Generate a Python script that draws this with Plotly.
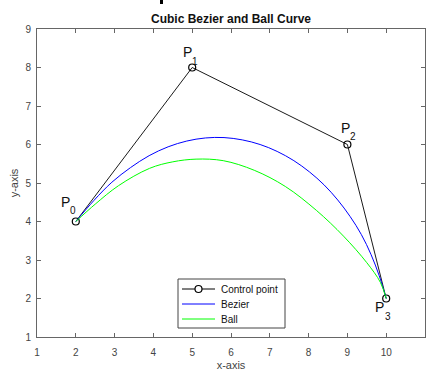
import plotly.graph_objects as go

# Control polygon
ctrl_x = [2, 5, 9, 10]
ctrl_y = [4, 8, 6, 2]
ctrl_index = ["0", "1", "2", "3"]

# Sampled curve points
bezier_x = [2, 2.47, 2.93, 3.41, 3.89, 4.38, 4.86, 5.34, 5.82, 6.29, 6.75, 7.19, 7.62, 8.02, 8.40, 8.75, 9.07, 9.36, 9.61, 9.82, 10]
bezier_y = [4, 4.55, 5.02, 5.40, 5.71, 5.94, 6.09, 6.17, 6.18, 6.12, 6.00, 5.82, 5.58, 5.29, 4.95, 4.56, 4.13, 3.66, 3.14, 2.59, 2]

ball_x = [2, 2.5, 3.1, 3.9, 4.5, 5.1, 5.8, 6.6, 7.4, 8.2, 8.9, 9.5, 9.85, 10]
ball_y = [4, 4.45, 4.93, 5.38, 5.55, 5.62, 5.58, 5.33, 4.91, 4.29, 3.62, 2.93, 2.42, 2]

# Position of the "P" in each control-point label
label_x = [1.73, 4.87, 8.94, 9.84]
label_y = [4.51, 8.40, 6.44, 1.77]

x_ticks = list(range(1, 12))
y_ticks = list(range(1, 10))

legend_names = ["Control point", "Bezier", "Ball"]
legend_colors = ["black", "#0000FF", "#00FF00"]

# plot-area geometry in pixels (used for the hand-drawn legend)
W, H = 430, 373
ML, MR, MT, MB = 37, 5, 29, 36
PW, PH = W - ML - MR, H - MT - MB


def px(xp):
    return (xp - ML) / PW


def py(yp):
    return (H - MB - yp) / PH


FONT = "Liberation Sans, Arial"

fig = go.Figure()

fig.add_trace(go.Scatter(
    x=ctrl_x, y=ctrl_y, mode="lines+markers", name=legend_names[0],
    line=dict(color=legend_colors[0], width=0.9),
    marker=dict(symbol="circle-open", size=7, color="black", line=dict(width=1.2)),
))
fig.add_trace(go.Scatter(
    x=bezier_x, y=bezier_y, mode="lines", name=legend_names[1],
    line=dict(color=legend_colors[1], width=1, shape="spline", smoothing=1.0),
))
fig.add_trace(go.Scatter(
    x=ball_x, y=ball_y, mode="lines", name=legend_names[2],
    line=dict(color=legend_colors[2], width=1, shape="spline", smoothing=1.0),
))

# "P" with a lowered index digit
for lx, ly, idx in zip(label_x, label_y, ctrl_index):
    fig.add_annotation(x=lx, y=ly, xref="x", yref="y", text="P", showarrow=False,
                       font=dict(family=FONT, size=14, color="#111"),
                       xanchor="center", yanchor="middle")
    fig.add_annotation(x=lx, y=ly, xref="x", yref="y", text=idx, showarrow=False,
                       xshift=8, yshift=-9,
                       font=dict(family=FONT, size=10, color="#111"),
                       xanchor="center", yanchor="middle")

# Compact boxed legend
shapes = [dict(type="rect", xref="paper", yref="paper",
               x0=px(178), x1=px(285), y0=py(328), y1=py(279),
               fillcolor="white", line=dict(color="#444", width=1), layer="above")]
row_y = [289, 304, 319]
for name, col, ry in zip(legend_names, legend_colors, row_y):
    shapes.append(dict(type="line", xref="paper", yref="paper",
                       x0=px(182), x1=px(215), y0=py(ry), y1=py(ry),
                       line=dict(color=col, width=1), layer="above"))
    fig.add_annotation(x=px(219), y=py(ry), xref="paper", yref="paper", text=name,
                       showarrow=False, xanchor="left", yanchor="middle",
                       font=dict(family=FONT, size=10, color="#111"))
shapes.append(dict(type="circle", xref="paper", yref="paper",
                   x0=px(195), x1=px(202), y0=py(row_y[0] + 3.5), y1=py(row_y[0] - 3.5),
                   fillcolor="white", line=dict(color="black", width=1.2), layer="above"))

# clipped glyph stroke peeking in at the top edge
shapes.append(dict(type="rect", xref="paper", yref="paper",
                   x0=px(160), x1=px(163), y0=py(4), y1=py(-1),
                   fillcolor="black", line=dict(width=0)))

axis_common = dict(
    showline=True, linecolor="#666", linewidth=1, mirror="ticks",
    ticks="inside", ticklen=4, tickcolor="#666", tickwidth=1,
    showgrid=False, zeroline=False, automargin=False,
    tickfont=dict(family=FONT, size=10, color="#444"),
    title_font=dict(family=FONT, size=11, color="#444"),
)

fig.update_xaxes(range=[1, 11], tickvals=x_ticks, title_text="x-axis",
                 title_standoff=4, ticklabelstandoff=6, **axis_common)
fig.update_yaxes(range=[1, 9], tickvals=y_ticks, title_text="y-axis",
                 title_standoff=4, ticklabelstandoff=3, **axis_common)

fig.update_layout(
    width=W, height=H,
    margin=dict(l=ML, r=MR, t=MT, b=MB),
    paper_bgcolor="white", plot_bgcolor="white",
    title=dict(text="<b>Cubic Bezier and Ball Curve</b>", x=px(231), xref="paper",
               xanchor="center", y=1 - 19 / H, yanchor="middle",
               font=dict(family=FONT, size=12, color="#111")),
    showlegend=False,
    shapes=shapes,
)

fig.write_html("out.html")
